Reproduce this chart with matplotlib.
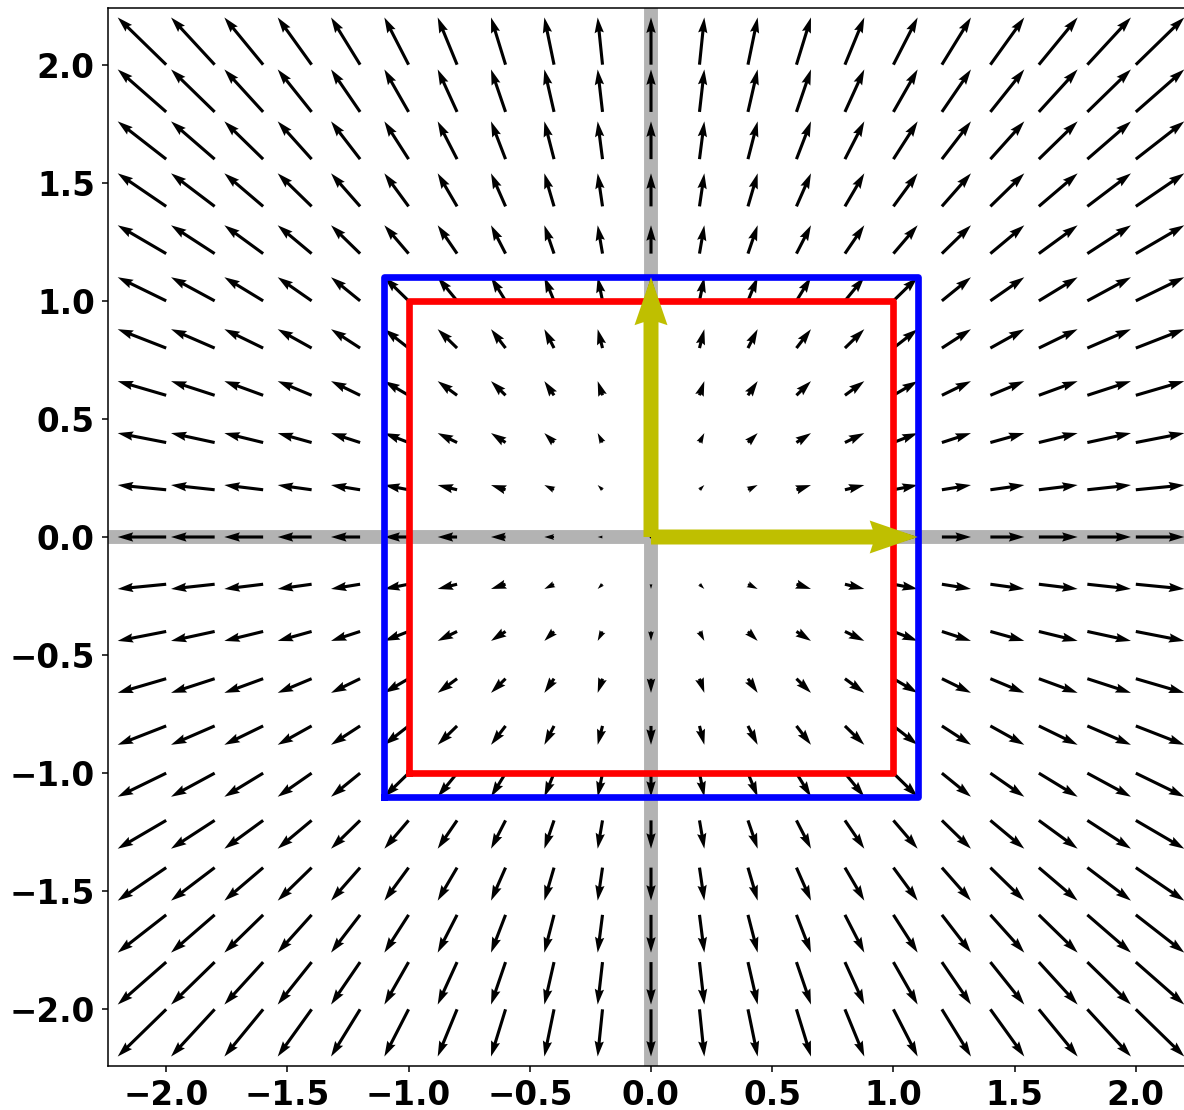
import numpy as np
import matplotlib
matplotlib.use("Agg")
import matplotlib.pyplot as plt

# linear map: uniform scaling by 1.1
A = np.array([[1.1, 0.0],
              [0.0, 1.1]])

# sample points of the field (both axes)
grid = [-2.0, -1.8, -1.6, -1.4, -1.2, -1.0, -0.8, -0.6, -0.4, -0.2, 0.0,
        0.2, 0.4, 0.6, 0.8, 1.0, 1.2, 1.4, 1.6, 1.8, 2.0]

# unit square and its image
square_x = [-1, 1, 1, -1, -1]
square_y = [-1, -1, 1, 1, -1]

# image of the basis vectors
e1 = A @ np.array([1.0, 0.0])
e2 = A @ np.array([0.0, 1.0])

X, Y = np.meshgrid(grid, grid)
P = np.stack([X.ravel(), Y.ravel()])
D = A @ P - P
U = D[0].reshape(X.shape)
V = D[1].reshape(X.shape)

img = A @ np.array([square_x, square_y], dtype=float)

fig = plt.figure(figsize=(11.84, 11.10), dpi=100)
ax = fig.add_axes([108 / 1184, 44 / 1110, 1086 / 1184, 1058 / 1110])

ax.axhline(0, color="0.7", lw=10, zorder=1)
ax.axvline(0, color="0.7", lw=10, zorder=1)

ax.quiver(X, Y, U, V, angles="xy", scale_units="xy", scale=1, color="k", zorder=2)

ax.plot(img[0], img[1], color="b", lw=4.8, zorder=3)
ax.plot(square_x, square_y, color="r", lw=4.8, zorder=3)

ax.quiver([0, 0], [0, 0], [e1[0], e2[0]], [e1[1], e2[1]],
          angles="xy", scale_units="xy", scale=1, color="y",
          width=0.0138, headwidth=2.2, headlength=3.2, headaxislength=3.0,
          zorder=4)

ax.set_xlim(-2.24, 2.24)
ax.set_ylim(-2.24, 2.24)
ax.set_xticks([-2.0, -1.5, -1.0, -0.5, 0.0, 0.5, 1.0, 1.5, 2.0])
ax.set_yticks([-2.0, -1.5, -1.0, -0.5, 0.0, 0.5, 1.0, 1.5, 2.0])
ax.tick_params(labelsize=23.5, length=4.5, width=1.1, pad=5)
for lab in ax.get_xticklabels() + ax.get_yticklabels():
    lab.set_fontweight("bold")
for s in ax.spines.values():
    s.set_linewidth(1.1)

fig.savefig("out.png", dpi=100)
